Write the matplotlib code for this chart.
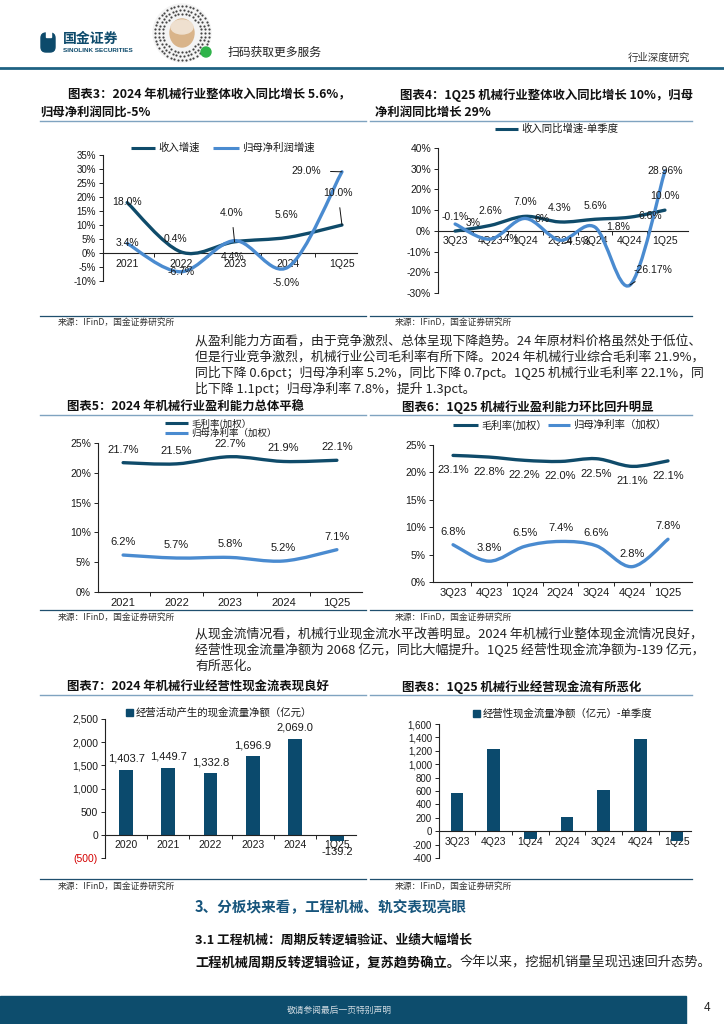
import numpy as np
import matplotlib
matplotlib.use('Agg')
import matplotlib.pyplot as plt
from matplotlib.path import Path
from matplotlib.patches import PathPatch, Rectangle, FancyBboxPatch, Ellipse, Circle
from matplotlib.lines import Line2D

plt.rcParams['font.family'] = ['Liberation Sans', 'Noto Sans CJK SC', 'DejaVu Sans']

# ---------------- data ----------------
years3 = ['2021', '2022', '2023', '2024', '1Q25']
rev_growth_y = [18.0, 0.4, 4.0, 5.6, 10.0]
np_growth_y = [3.4, -6.7, 4.4, -5.0, 29.0]

quarters4 = ['3Q23', '4Q23', '1Q24', '2Q24', '3Q24', '4Q24', '1Q25']
rev_growth_q = [-0.1, 2.6, 7.0, 4.3, 5.6, 6.6, 10.0]
np_growth_q = [3.3, -4.0, 6.0, -4.5, 1.8, -26.17, 28.96]
rev_q_labels = ['-0.1%', '2.6%', '7.0%', '4.3%', '5.6%', '6.6%', '10.0%']
np_q_labels = ['3%', '-4%', '6%', '-4.5%', '1.8%', '-26.17%', '28.96%']

years5 = ['2021', '2022', '2023', '2024', '1Q25']
gm_y = [21.7, 21.5, 22.7, 21.9, 22.1]
nm_y = [6.2, 5.7, 5.8, 5.2, 7.1]

quarters6 = ['3Q23', '4Q23', '1Q24', '2Q24', '3Q24', '4Q24', '1Q25']
gm_q = [23.1, 22.8, 22.2, 22.0, 22.5, 21.1, 22.1]
nm_q = [6.8, 3.8, 6.5, 7.4, 6.6, 2.8, 7.8]

cf_years = ['2020', '2021', '2022', '2023', '2024', '1Q25']
cf_y = [1403.7, 1449.7, 1332.8, 1696.9, 2069.0, -139.2]

cf_quarters = ['3Q23', '4Q23', '1Q24', '2Q24', '3Q24', '4Q24', '1Q25']
cf_q = [575, 1220, -115, 210, 620, 1370, -139]

# ---------------- styles ----------------
DARK = '#0f4b6a'
LIGHT = '#4a8bd0'
BAR = '#0b4a6d'
TXT = '#1a1a1a'
CJK = ['Noto Sans CJK SC', 'DejaVu Sans']

W, H = 724, 1024
fig = plt.figure(figsize=(7.24, 10.24), dpi=100)

bg = fig.add_axes([0, 0, 1, 1])
bg.set_xlim(0, W)
bg.set_ylim(H, 0)
bg.axis('off')


def axes_px(x0, y0, x1, y1):
    return fig.add_axes([x0 / W, 1 - y1 / H, (x1 - x0) / W, (y1 - y0) / H])


def smooth_line(ax, xs, ys, color, lw):
    xs = np.asarray(xs, float)
    ys = np.asarray(ys, float)
    n = len(xs)
    verts = [(xs[0], ys[0])]
    codes = [Path.MOVETO]
    for i in range(n - 1):
        p0 = np.array([xs[max(i - 1, 0)], ys[max(i - 1, 0)]])
        p1 = np.array([xs[i], ys[i]])
        p2 = np.array([xs[i + 1], ys[i + 1]])
        p3 = np.array([xs[min(i + 2, n - 1)], ys[min(i + 2, n - 1)]])
        c1 = p1 + (p2 - p0) / 6
        c2 = p2 - (p3 - p1) / 6
        verts += [tuple(c1), tuple(c2), tuple(p2)]
        codes += [Path.CURVE4] * 3
    ax.add_patch(PathPatch(Path(verts, codes), fill=False, edgecolor=color,
                           lw=lw, capstyle='round', joinstyle='round', zorder=3))


def style_axes(ax, cats, xlim, ylim, yticks, ylabels, zero=True, xlabsize=7.5, ylabsize=7):
    ax.set_xlim(xlim)
    ax.set_ylim(ylim)
    ax.patch.set_alpha(0)
    for s in ['top', 'right']:
        ax.spines[s].set_visible(False)
    ax.spines['left'].set_color('#222')
    ax.spines['left'].set_linewidth(0.8)
    ax.spines['bottom'].set_color('#222')
    ax.spines['bottom'].set_linewidth(0.8)
    if zero:
        ax.spines['bottom'].set_position(('data', 0))
    ax.set_yticks(yticks)
    ax.set_yticklabels(ylabels, fontsize=ylabsize, color=TXT)
    ax.tick_params(axis='y', length=3, width=0.7, pad=2, color='#222')
    x = np.arange(len(cats))
    ax.set_xticks(x)
    ax.set_xticklabels(cats, fontsize=xlabsize, color=TXT)
    ax.set_xticks(x[:-1] + 0.5, minor=True)
    ax.tick_params(axis='x', which='major', length=0, pad=4)
    ax.tick_params(axis='x', which='minor', length=3, width=0.7, color='#222')


def lab(ax, x, y, s, dx, dy, leader=False, size=7.5):
    if leader:
        ax.annotate(s, (x, y), xytext=(dx, dy), textcoords='offset pixels',
                    ha='center', va='center', fontsize=size, color=TXT, zorder=5,
                    arrowprops=dict(arrowstyle='-', color='#111', lw=0.7,
                                    shrinkA=5, shrinkB=0))
    else:
        ax.annotate(s, (x, y), xytext=(dx, dy), textcoords='offset pixels',
                    ha='center', va='center', fontsize=size, color=TXT, zorder=5)


def title(x, y, s):
    bg.text(x, y, s, fontsize=8.9, fontweight='bold', family=CJK, color='#111',
            va='center', ha='left', style='italic')


def hline(x0, x1, y, color, lw):
    bg.add_line(Line2D([x0, x1], [y, y], color=color, lw=lw))


def leg_line(x0, x1, y, color, text, lw=2.2, size=7.5):
    bg.add_line(Line2D([x0, x1], [y, y], color=color, lw=lw, solid_capstyle='butt'))
    bg.text(x1 + 3, y, text, fontsize=size, color=TXT, va='center', ha='left', family=CJK)


def leg_sq(x, y, text):
    bg.add_patch(Rectangle((x, y - 3.5), 7, 7, color=BAR))
    bg.text(x + 10, y, text, fontsize=7.5, color=TXT, va='center', ha='left', family=CJK)


def source(x, y):
    bg.text(x, y, '来源：IFinD，国金证券研究所', fontsize=6.3, color='#333',
            va='center', ha='left', family=CJK)


# ---------------- header ----------------
bg.add_patch(FancyBboxPatch((41, 33), 14, 19, boxstyle='round,pad=0,rounding_size=5',
                            color='#0d4a6b'))
bg.add_patch(Rectangle((46, 31), 5, 6, color='white'))
bg.text(63, 39, '国金证券', fontsize=10, fontweight='bold', color='#0d4a6b',
        va='center', ha='left', family=CJK)
bg.text(63, 50, 'SINOLINK SECURITIES', fontsize=4.6, fontweight='bold', color='#0d4a6b',
        va='center', ha='left')
# decorative QR badge
bg.add_patch(Circle((182, 33), 29, color='#f4f4f4'))
for r, n in [(27, 44), (23, 38), (19, 32)]:
    ang = np.linspace(0, 2 * np.pi, n, endpoint=False)
    bg.scatter(182 + r * np.cos(ang), 33 + r * np.sin(ang), s=2.5, color='#444', lw=0)
bg.add_patch(Ellipse((182, 33), 24, 28, color='#d9b48a'))
bg.add_patch(Ellipse((182, 27), 22, 14, color='#efe0cf'))
bg.add_patch(Circle((206, 52), 5, color='#2fb34a'))
bg.text(228, 52, '扫码获取更多服务', fontsize=8.5, color='#222', va='center', ha='left',
        family=CJK)
bg.text(690, 58, '行业深度研究', fontsize=7.5, color='#333', va='center', ha='right',
        family=CJK)
hline(0, W, 68, '#1f6283', 2.0)

# ---------------- chart 3 ----------------
title(68, 95, '图表3：2024 年机械行业整体收入同比增长 5.6%，')
title(40, 112, '归母净利润同比-5%')
hline(40, 366, 121, '#7fa3c0', 1.0)
leg_line(131, 155, 148, DARK, '收入增速')
leg_line(213, 239, 148, LIGHT, '归母净利润增速')
ax3 = axes_px(103, 155, 357, 281)
style_axes(ax3, years3, (-0.45, 4.28), (-10, 35), list(range(-10, 40, 5)),
           [f'{v}%' for v in range(-10, 40, 5)])
x3 = np.arange(len(years3))
smooth_line(ax3, x3, rev_growth_y, DARK, 2.4)
smooth_line(ax3, x3, np_growth_y, LIGHT, 2.4)
rev3_off = [(0, 1, False), (-5, 13, False), (-3, 29, True), (-2, 22, False), (-4, 32, True)]
np3_off = [(0, 0, False), (0, 0, False), (-2, -16, False), (-2, -16, False), (-36, 1, True)]
for i in range(len(years3)):
    dx, dy, ld = rev3_off[i]
    lab(ax3, x3[i], rev_growth_y[i], f'{rev_growth_y[i]:.1f}%', dx, dy, ld)
    dx, dy, ld = np3_off[i]
    lab(ax3, x3[i], np_growth_y[i], f'{np_growth_y[i]:.1f}%', dx, dy, ld)
hline(40, 366, 316, '#1f4f6e', 0.9)
source(58, 322)

# ---------------- chart 4 ----------------
title(400, 95, '图表4：1Q25 机械行业整体收入同比增长 10%，归母')
title(375, 112, '净利润同比增长 29%')
hline(370, 692, 121, '#7fa3c0', 1.0)
leg_line(495, 518, 129, DARK, '收入同比增速-单季度')
ax4 = axes_px(438, 148, 688, 293)
style_axes(ax4, quarters4, (-0.49, 6.66), (-30, 40), list(range(-30, 50, 10)),
           [f'{v}%' for v in range(-30, 50, 10)], ylabsize=7.5)
x4 = np.arange(len(quarters4))
smooth_line(ax4, x4, rev_growth_q, DARK, 2.4)
smooth_line(ax4, x4, np_growth_q, LIGHT, 2.4)
rev4_off = [(0, 14), (0, 14), (0, 14), (0, 14), (0, 13), (20, 1), (0, 14)]
np4_off = [(18, 1, False), (20, 0, False), (17, -1, False), (17, -2, False),
           (23, 0, False), (23, 15, True), (0, 0, False)]
for i in range(len(quarters4)):
    dx, dy = rev4_off[i]
    lab(ax4, x4[i], rev_growth_q[i], rev_q_labels[i], dx, dy)
    dx, dy, ld = np4_off[i]
    lab(ax4, x4[i], np_growth_q[i], np_q_labels[i], dx, dy, ld)
hline(370, 692, 316, '#1f4f6e', 0.9)
source(395, 322)

# ---------------- paragraph 1 ----------------
para1 = ['从盈利能力方面看，由于竞争激烈、总体呈现下降趋势。24 年原材料价格虽然处于低位、',
         '但是行业竞争激烈，机械行业公司毛利率有所下降。2024 年机械行业综合毛利率 21.9%，',
         '同比下降 0.6pct；归母净利率 5.2%，同比下降 0.7pct。1Q25 机械行业毛利率 22.1%，同',
         '比下降 1.1pct；归母净利率 7.8%，提升 1.3pct。']
for i, s in enumerate(para1):
    bg.text(195, 341 + 16 * i, s, fontsize=9.3, color='#222', va='center', ha='left',
            family=CJK)

# ---------------- chart 5 ----------------
title(67, 407, '图表5：2024 年机械行业盈利能力总体平稳')
hline(40, 366, 415, '#7fa3c0', 1.0)
leg_line(165, 188, 423, DARK, '毛利率(加权）', size=6.8)
leg_line(165, 188, 433, LIGHT, '归母净利率（加权）', size=6.8)
ax5 = axes_px(98, 443, 362, 592)
style_axes(ax5, years5, (-0.47, 4.47), (0, 25), list(range(0, 30, 5)),
           [f'{v}%' for v in range(0, 30, 5)], zero=False, xlabsize=8, ylabsize=7.5)
x5 = np.arange(len(years5))
smooth_line(ax5, x5, gm_y, DARK, 2.4)
smooth_line(ax5, x5, nm_y, LIGHT, 2.4)
for i in range(len(years5)):
    lab(ax5, x5[i], gm_y[i], f'{gm_y[i]:.1f}%', 0, 13, size=8)
    lab(ax5, x5[i], nm_y[i], f'{nm_y[i]:.1f}%', 0, 13, size=8)
hline(40, 366, 610, '#1f4f6e', 0.9)
source(58, 617)

# ---------------- chart 6 ----------------
title(402, 407, '图表6：1Q25 机械行业盈利能力环比回升明显')
hline(370, 692, 415, '#7fa3c0', 1.0)
leg_line(453, 478, 425, DARK, '毛利率(加权）')
leg_line(548, 570, 425, LIGHT, '归母净利率（加权）')
ax6 = axes_px(433, 445, 692, 582)
style_axes(ax6, quarters6, (-0.56, 6.67), (0, 25), list(range(0, 30, 5)),
           [f'{v}%' for v in range(0, 30, 5)], zero=False, xlabsize=8, ylabsize=7.5)
x6 = np.arange(len(quarters6))
smooth_line(ax6, x6, gm_q, DARK, 2.4)
smooth_line(ax6, x6, nm_q, LIGHT, 2.4)
for i in range(len(quarters6)):
    lab(ax6, x6[i], gm_q[i], f'{gm_q[i]:.1f}%', 0, -15, size=8)
    lab(ax6, x6[i], nm_q[i], f'{nm_q[i]:.1f}%', 0, 13, size=8)
hline(370, 692, 610, '#1f4f6e', 0.9)
source(395, 617)

# ---------------- paragraph 2 ----------------
para2 = ['从现金流情况看，机械行业现金流水平改善明显。2024 年机械行业整体现金流情况良好，',
         '经营性现金流量净额为 2068 亿元，同比大幅提升。1Q25 经营性现金流净额为-139 亿元，',
         '有所恶化。']
for i, s in enumerate(para2):
    bg.text(195, 634 + 16 * i, s, fontsize=9.3, color='#222', va='center', ha='left',
            family=CJK)

# ---------------- chart 7 ----------------
title(67, 687, '图表7：2024 年机械行业经营性现金流表现良好')
hline(40, 366, 695, '#7fa3c0', 1.0)
leg_sq(126, 712, '经营活动产生的现金流量净额（亿元）')
ax7 = axes_px(105, 719, 356, 858)
yt7 = list(range(-500, 3000, 500))
yl7 = [f'({-v:,})' if v < 0 else f'{v:,}' for v in yt7]
style_axes(ax7, cf_years, (-0.5, 5.45), (-500, 2500), yt7, yl7, ylabsize=7.5)
ax7.get_yticklabels()[0].set_color('#d40000')
x7 = np.arange(len(cf_years))
ax7.bar(x7, cf_y, width=0.33, color=BAR, zorder=2)
for i in range(len(cf_years)):
    v = cf_y[i]
    lab(ax7, x7[i], v, f'{v:,.1f}', 0, 11 if v >= 0 else -11, size=8)
hline(40, 366, 879, '#1f4f6e', 0.9)
source(58, 886)

# ---------------- chart 8 ----------------
title(402, 687, '图表8：1Q25 机械行业经营现金流有所恶化')
hline(370, 692, 695, '#7fa3c0', 1.0)
leg_sq(473, 713, '经营性现金流量净额（亿元）-单季度')
ax8 = axes_px(439, 724, 691, 858)
yt8 = list(range(-400, 1800, 200))
yl8 = [f'{v:,}' for v in yt8]
style_axes(ax8, cf_quarters, (-0.49, 6.38), (-400, 1600), yt8, yl8)
x8 = np.arange(len(cf_quarters))
ax8.bar(x8, cf_q, width=0.34, color=BAR, zorder=2)
hline(370, 692, 879, '#1f4f6e', 0.9)
source(395, 886)

# ---------------- section text ----------------
bg.text(195, 907, '3、分板块来看，工程机械、轨交表现亮眼', fontsize=10.5, fontweight='bold',
        color='#17557c', va='center', ha='left', family=CJK)
bg.text(195, 940, '3.1 工程机械：周期反转逻辑验证、业绩大幅增长', fontsize=9.2,
        fontweight='bold', color='#111', va='center', ha='left', family=CJK)
t1 = bg.text(195, 963, '工程机械周期反转逻辑验证，复苏趋势确立。', fontsize=9.5,
             fontweight='bold', color='#111', va='center', ha='left', family=CJK)
fig.canvas.draw()
bb = t1.get_window_extent()
x_end = bb.x1 / fig.dpi * 100
bg.text(x_end, 963, '今年以来，挖掘机销量呈现迅速回升态势。', fontsize=9.5,
        color='#222', va='center', ha='left', family=CJK)

# ---------------- footer ----------------
bg.add_patch(Rectangle((0, 996), 686, 28, color='#0d4d6d'))
bg.text(339, 1010, '敬请参阅最后一页特别声明', fontsize=6.3, color='#d0dbe2',
        va='center', ha='center', family=CJK)
bg.text(707, 1008, '4', fontsize=8.5, color='#222', va='center', ha='center')

fig.savefig('out.png', dpi=100)
